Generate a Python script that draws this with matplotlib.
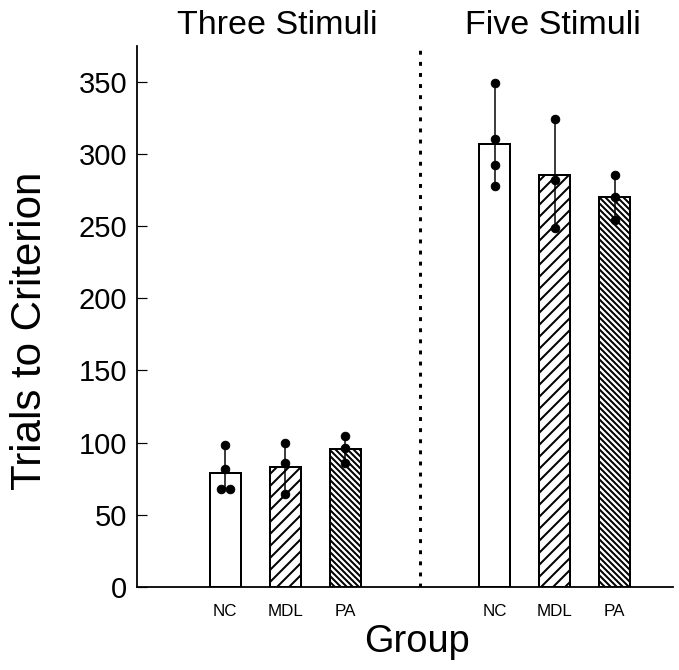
import numpy as np
import matplotlib
matplotlib.use('Agg')
import matplotlib.pyplot as plt

plt.rcParams['font.family'] = ['Liberation Sans', 'DejaVu Sans']
plt.rcParams['hatch.linewidth'] = 2.0

# data
groups = ['NC', 'MDL', 'PA']
three_means = [79.0, 83.3, 95.6]
five_means = [306.7, 285.4, 270.3]

three_points = [
    [98.4, 81.7, 67.6, 67.6],
    [99.6, 86.1, 64.2],
    [104.2, 96.1, 85.7],
]
five_points = [
    [349.0, 310.2, 292.6, 277.8],
    [324.5, 282.0, 248.9],
    [285.2, 270.3, 254.6],
]
yticks = [0, 50, 100, 150, 200, 250, 300, 350]

# layout
pos3 = np.array([1.0, 2.0, 3.0])
pos5 = pos3 + 4.5
hatches = ['', '//', '\\\\\\\\']
bw = 0.52

fig = plt.figure(figsize=(679 / 72, 670 / 72), dpi=72)
ax = fig.add_axes([137 / 679, 83.3 / 670, 536 / 679, 540.7 / 670])

for pos, means, pts in [(pos3, three_means, three_points), (pos5, five_means, five_points)]:
    for x, m, p, h in zip(pos, means, pts, hatches):
        ax.bar(x, m, width=bw, color='white', edgecolor='black', linewidth=2,
               hatch=h, zorder=2)
        ax.vlines(x, min(p), max(p), color='black', linewidth=1.5, zorder=3)
        p = np.array(p)
        xs = np.full(len(p), x)
        # duplicated values are drawn side by side
        for i in range(1, len(p)):
            if p[i] == p[i - 1]:
                xs[i - 1] = x - 0.075
                xs[i] = x + 0.075
        ax.plot(xs, p, 'o', color='black', markersize=8.5, zorder=4)

ax.axvline(4.25, color='black', linewidth=3, linestyle=(0, (1.3, 2.4)), zorder=1)

ax.set_xlim(-0.475, 8.475)
ax.set_ylim(0, 375)
ax.set_yticks(yticks)
ax.tick_params(axis='y', direction='in', length=10, width=1.2, labelsize=29, pad=10)
ax.set_xticks(np.concatenate([pos3, pos5]))
ax.set_xticklabels(groups + groups, fontsize=17)
ax.tick_params(axis='x', length=0, pad=17)

for s in ['top', 'right']:
    ax.spines[s].set_visible(False)
ax.spines['left'].set_linewidth(1.8)
ax.spines['bottom'].set_linewidth(1.8)

fig.text(277 / 679, 1 - 25 / 670, 'Three Stimuli', fontsize=34, ha='center', va='center')
fig.text(553 / 679, 1 - 25 / 670, 'Five Stimuli', fontsize=34, ha='center', va='center')
fig.text(30 / 679, 1 - 331 / 670, 'Trials to Criterion', fontsize=42, rotation=90,
         ha='center', va='center')
fig.text(417 / 679, 1 - 642 / 670, 'Group', fontsize=38, ha='center', va='center')

plt.savefig('out.png', dpi=72)
